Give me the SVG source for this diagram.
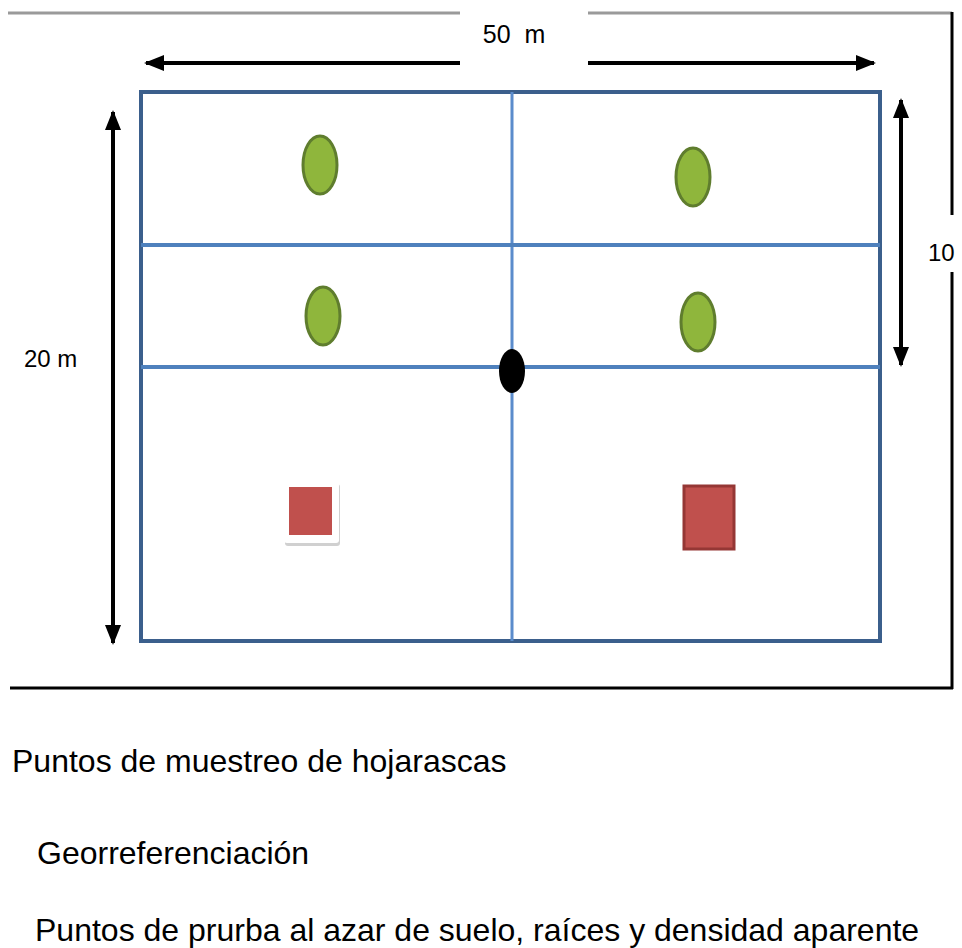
<svg xmlns="http://www.w3.org/2000/svg" width="962" height="948" viewBox="0 0 962 948">
<defs>
<marker id="ah" viewBox="0 0 10 10" refX="9" refY="5" markerWidth="5" markerHeight="5" orient="auto-start-reverse" markerUnits="strokeWidth"><path d="M0,1 L10,5 L0,9 z" fill="#000"/></marker>
<style>
.frame{fill:none;stroke:#3b5f8c;stroke-width:4}
.grid{stroke:#4f81bd;stroke-width:4}
.vline{stroke:#5b8ccc;stroke-width:3}
.dim{stroke:#000;stroke-width:4;fill:none}
.leaf{fill:#8fb63c;stroke:#5f7d2e;stroke-width:3}
.lbl{font-family:"Liberation Sans",Arial,sans-serif;fill:#000}
</style>
</defs>
<rect width="962" height="948" fill="#fff"/>
<g id="border">
<line x1="8" y1="13" x2="952" y2="13" stroke="#9a9a9a" stroke-width="3"/>
<line x1="952" y1="12" x2="952" y2="689" stroke="#000" stroke-width="3"/>
<line x1="10" y1="688" x2="953" y2="688" stroke="#000" stroke-width="3"/>
</g>
<g id="plot">
<rect class="frame" x="141" y="92" width="739" height="549"/>
<line class="vline" x1="512" y1="92" x2="512" y2="641"/>
<line class="grid" x1="141" y1="245" x2="880" y2="245"/>
<line class="grid" x1="141" y1="367" x2="880" y2="367"/>
</g>
<g id="connectors">
<line class="dim" x1="146" y1="63" x2="874" y2="63" stroke-width="5" marker-start="url(#ah)" marker-end="url(#ah)"/>
<line class="dim" x1="113" y1="112" x2="113" y2="643" stroke-width="3" marker-start="url(#ah)" marker-end="url(#ah)"/>
<line class="dim" x1="901" y1="100" x2="901" y2="365" stroke-width="3" marker-start="url(#ah)" marker-end="url(#ah)"/>
</g>
<g id="label-50m">
<rect x="460" y="8" width="128" height="57" fill="#fff"/>
<text class="lbl" x="514" y="43" font-size="25" text-anchor="middle" font-family="'Liberation Sans Narrow','Liberation Sans',sans-serif" style="white-space:pre">50  m</text>
</g>
<g id="label-20m">
<rect x="10" y="330" width="100" height="50" fill="#fff"/>
<text class="lbl" x="24" y="367" font-size="24">20 m</text>
</g>
<g id="label-10">
<rect x="918" y="215" width="44" height="57" fill="#fff"/>
<text class="lbl" x="928" y="261" font-size="24">10</text>
</g>
<g id="leaf1"><ellipse class="leaf" cx="320" cy="165" rx="17" ry="29"/></g>
<g id="leaf2"><ellipse class="leaf" cx="693" cy="177" rx="17" ry="29"/></g>
<g id="leaf3"><ellipse class="leaf" cx="323" cy="316" rx="17" ry="29"/></g>
<g id="leaf4"><ellipse class="leaf" cx="698" cy="322" rx="17" ry="29"/></g>
<g id="geo"><ellipse cx="512" cy="371" rx="13" ry="22" fill="#000"/></g>
<g id="soil1">
<rect x="285" y="484" width="55" height="62" rx="3" fill="#d0d0d0"/>
<rect x="284" y="481" width="55" height="62" rx="3" fill="#fff"/>
<rect x="289" y="487" width="43" height="48" fill="#c0504d"/>
</g>
<g id="soil2">
<rect x="684" y="486" width="50" height="63" fill="#c0504d" stroke="#953735" stroke-width="3"/>
</g>
<g id="legend">
<text class="lbl" x="12" y="772" font-size="32">Puntos de muestreo de hojarascas</text>
<text class="lbl" x="37" y="864" font-size="32">Georreferenciación</text>
<text class="lbl" x="35" y="941" font-size="32">Puntos de prurba al azar de suelo, raíces y densidad aparente</text>
</g>
</svg>
